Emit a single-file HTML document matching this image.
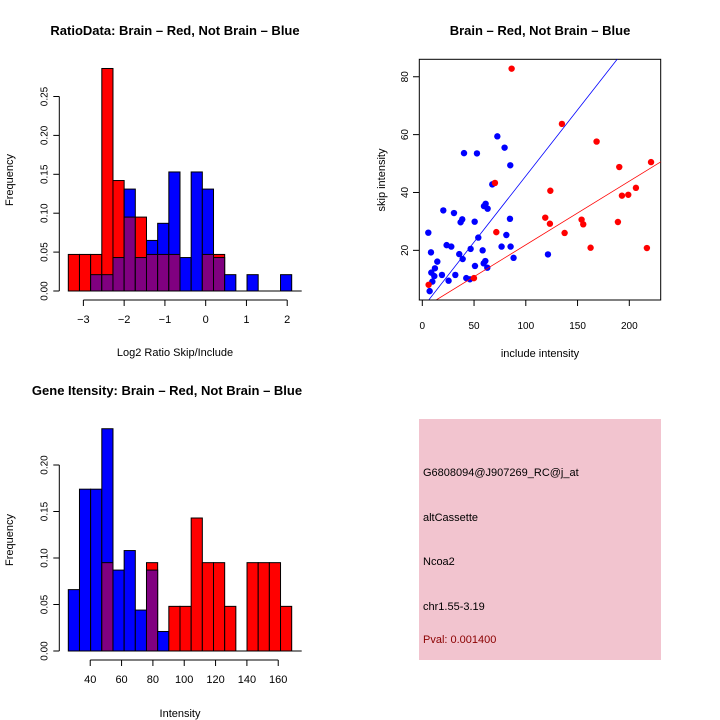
<!DOCTYPE html>
<html><head><meta charset="utf-8"><style>
body{margin:0;background:#fff}
svg{display:block;font-family:"Liberation Sans",sans-serif}
</style></head><body>
<svg id="c" width="720" height="720" xmlns="http://www.w3.org/2000/svg"></svg>
<script>
// ---- data ----
const ratioRed  = [0.047,0.047,0.047,0.286,0.142,0.095,0.095,0.047,0.047,0.047,0,0,0.047,0.047,0,0,0,0,0,0];
const ratioBlue = [0,0,0.021,0.021,0.043,0.131,0.043,0.065,0.087,0.153,0.043,0.153,0.131,0.043,0.021,0,0.021,0,0,0.021];
const ratioBinStart = -3.37, ratioBinWidth = 0.274;
const ratioXTicks = [-3,-2,-1,0,1,2];
const ratioYTicks = ["0.00","0.05","0.10","0.15","0.20","0.25"];

const geneRed  = [0,0,0,0.095,0,0,0,0.095,0,0.048,0.048,0.143,0.095,0.095,0.048,0,0.095,0.095,0.095,0.048];
const geneBlue = [0.066,0.174,0.174,0.239,0.087,0.108,0.044,0.087,0.021,0,0,0,0,0,0,0,0,0,0,0];
const geneBinStart = 26, geneBinWidth = 7.13;
const geneXTicks = [40,60,80,100,120,140,160];
const geneYTicks = ["0.00","0.05","0.10","0.15","0.20"];

const blueX = [5.8,8.4,7.1,9.7,8.7,12.2,14.5,11.6,19,20.3,23.5,28,25.4,30.6,31.9,35.7,37,38.6,39,40.3,42.5,46.7,46,50.6,50.9,52.8,54.1,58.3,59.6,61.2,59.3,60.9,63.1,62.8,67.6,72.5,76.6,79.5,81.2,85,84.7,85.3,88.2,121.4];
const blueY = [26.1,19.3,5.9,9.2,12.3,13.8,16.1,11.1,11.5,33.8,21.8,21.3,9.5,32.9,11.5,18.7,29.7,30.7,17,53.6,10.4,20.5,10,29.9,14.6,53.5,24.4,20,35.3,36.1,15.5,16.3,34.4,14,42.8,59.4,21.3,55.5,25.3,49.4,30.9,21.3,17.4,18.6];
const redX = [6.1,49.9,70.2,71.5,86.3,118.8,123.3,123.7,134.9,137.5,153.9,155.5,162.6,168.4,189,190.3,192.9,199,206.4,217,221];
const redY = [8.1,10.4,43.3,26.3,82.8,31.3,29.2,40.6,63.7,26,30.6,29,20.9,57.6,29.8,48.8,38.9,39.2,41.6,20.8,50.5];
const blueFit = [0, 0.457];   // intercept, slope
const redFit  = [-0.1, 0.22];
const scatXTicks = [0,50,100,150,200];
const scatYTicks = [20,40,60,80];

// ---- helpers ----
const S = document.getElementById('c');
const NS = 'http://www.w3.org/2000/svg';
function mk(tag, attrs, parent){const e=document.createElementNS(NS,tag);for(const k in attrs)e.setAttribute(k,attrs[k]);(parent||S).appendChild(e);return e;}
function txt(s,x,y,opt){const e=mk('text',Object.assign({x:x,y:y,'font-size':11,'text-anchor':'middle',fill:'#000'},opt||{}));e.textContent=s;return e;}

S.appendChild(document.createElementNS(NS,'g'));
const bg=mk('rect',{x:0,y:0,width:720,height:720,fill:'#fff'});



function histogram(name, red, blue, binStart, binW, xTicks, yTicks, yStep, plot){
  const g=mk('g',{});
  
  
  const xs=v=>plot.x0+(v-binStart)/binW*plot.bw;
  const ys=v=>plot.y0-v/yStep*plot.yPer;
  for(let i=0;i<red.length;i++){
    const r=red[i], b=blue[i];
    const xl=xs(binStart+i*binW), xr=xs(binStart+(i+1)*binW);
    const hi=Math.max(r,b), lo=Math.min(r,b);
    if(hi>0){
      const e=mk('rect',{x:xl,y:ys(hi),width:xr-xl,height:ys(0)-ys(hi),fill:r>=b?'#ff0000':'#0000ff',stroke:'#000','stroke-width':1},g);
      
      
    }
    if(lo>0){
      const e=mk('rect',{x:xl,y:ys(lo),width:xr-xl,height:ys(0)-ys(lo),fill:'#800080',stroke:'#000','stroke-width':1},g);
      
      
    }
  }
  // baseline
  mk('line',{x1:xs(binStart),x2:xs(binStart+red.length*binW)+10,y1:plot.y0,y2:plot.y0,stroke:'#000'},g);
  // y axis
  const ya=mk('g',{},g);
  
  
  mk('line',{x1:plot.ax,x2:plot.ax,y1:ys(0),y2:ys((yTicks.length-1)*yStep),stroke:'#000'},ya);
  yTicks.forEach((t,k)=>{const y=ys(k*yStep);mk('line',{x1:plot.ax-6,x2:plot.ax,y1:y,y2:y,stroke:'#000'},ya);
    txt(t,plot.ax-12,y,{transform:`rotate(-90 ${plot.ax-12} ${y})`,'font-size':10});});
  // x axis
  const xa=mk('g',{},g);
  
  
  mk('line',{x1:xs(xTicks[0]),x2:xs(xTicks[xTicks.length-1]),y1:plot.xay,y2:plot.xay,stroke:'#000'},xa);
  xTicks.forEach(t=>{const x=xs(t);mk('line',{x1:x,x2:x,y1:plot.xay,y2:plot.xay+6,stroke:'#000'},xa);txt(String(t).replace('-','\u2212'),x,plot.xay+23);});
}

histogram('ratio-histogram',ratioRed,ratioBlue,ratioBinStart,ratioBinWidth,ratioXTicks,ratioYTicks,0.05,
  {x0:68.3,bw:11.17,y0:291,yPer:38.9,ax:59.3,xay:300});
histogram('gene-intensity-histogram',geneRed,geneBlue,geneBinStart,geneBinWidth,geneXTicks,geneYTicks,0.05,
  {x0:68.3,bw:11.17,y0:651,yPer:46.5,ax:59.3,xay:660});

// scatter
(function(){
  const g=mk('g',{});
  
  
  const xs=v=>422.3+v*1.035, ys=v=>308.2-v*2.893;
  const cp=mk('clipPath',{id:'sc'},g);mk('rect',{x:419.3,y:59.3,width:241.4,height:240.7},cp);
  const box=mk('rect',{x:419.3,y:59.3,width:241.4,height:240.7,fill:'none',stroke:'#000'},g);
  
  
  blueX.forEach((x,i)=>{const p=mk('circle',{cx:xs(x),cy:ys(blueY[i]),r:3.2,fill:'#0000ff'},g);
    
    });
  redX.forEach((x,i)=>{const p=mk('circle',{cx:xs(x),cy:ys(redY[i]),r:3.2,fill:'#ff0000'},g);
    
    });
  [[blueFit,'#0000ff','blue-fit-line'],[redFit,'#ff0000','red-fit-line']].forEach(([f,c,n])=>{
    const l=mk('line',{x1:xs(-10),y1:ys(f[0]+f[1]*-10),x2:xs(250),y2:ys(f[0]+f[1]*250),stroke:c,'stroke-width':0.8,'clip-path':'url(#sc)'},g);
    
    });
  scatXTicks.forEach(t=>{const x=xs(t);mk('line',{x1:x,x2:x,y1:300,y2:306,stroke:'#000'},g);txt(String(t),x,329,{'font-size':10});});
  mk('line',{x1:xs(0),x2:xs(200),y1:300,y2:300,stroke:'#000'},g);
  scatYTicks.forEach(t=>{const y=ys(t);mk('line',{x1:413,x2:419.3,y1:y,y2:y,stroke:'#000'},g);txt(String(t),408,y,{transform:`rotate(-90 408 ${y})`,'font-size':10});});
})();
</script>
<svg width="720" height="720" style="position:absolute;left:0;top:0" xmlns="http://www.w3.org/2000/svg">
<text x="175" y="35" font-size="13" font-weight="bold" text-anchor="middle" font-family="Liberation Sans,sans-serif">RatioData: Brain – Red, Not Brain – Blue</text>
<text x="175" y="356" font-size="11" text-anchor="middle" font-family="Liberation Sans,sans-serif">Log2 Ratio Skip/Include</text>
<text x="13" y="180" font-size="11" text-anchor="middle" transform="rotate(-90 13 180)" font-family="Liberation Sans,sans-serif">Frequency</text>
<text x="540" y="35" font-size="13" font-weight="bold" text-anchor="middle" font-family="Liberation Sans,sans-serif">Brain – Red, Not Brain – Blue</text>
<text x="540" y="357" font-size="11" text-anchor="middle" font-family="Liberation Sans,sans-serif">include intensity</text>
<text x="385" y="180" font-size="11" text-anchor="middle" transform="rotate(-90 385 180)" font-family="Liberation Sans,sans-serif">skip intensity</text>
<text x="167" y="395" font-size="13" font-weight="bold" text-anchor="middle" font-family="Liberation Sans,sans-serif">Gene Itensity: Brain – Red, Not Brain – Blue</text>
<text x="180" y="717" font-size="11" text-anchor="middle" font-family="Liberation Sans,sans-serif">Intensity</text>
<text x="13" y="540" font-size="11" text-anchor="middle" transform="rotate(-90 13 540)" font-family="Liberation Sans,sans-serif">Frequency</text>
<g font-family="Liberation Sans,sans-serif" font-size="11">
<rect x="419" y="419" width="242" height="241" fill="#f2c4cf"/>
<text x="423" y="476">G6808094@J907269_RC@j_at</text>
<text x="423" y="521">altCassette</text>
<text x="423" y="565">Ncoa2</text>
<text x="423" y="610">chr1.55-3.19</text>
<text x="423" y="643" fill="#8b0000">Pval: 0.001400</text>
</g>
</svg>
</body></html>
